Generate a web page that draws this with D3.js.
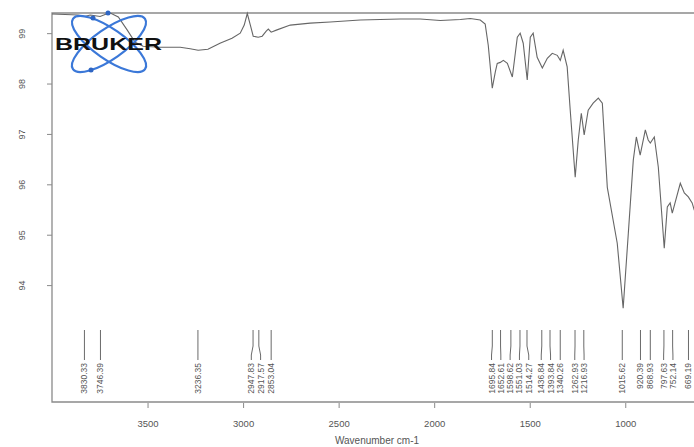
<!DOCTYPE html>
<html lang="en">
<head>
    <meta charset="UTF-8">
    <title>ir-spectrum</title>
    <script src="https://cdn.jsdelivr.net/npm/d3@7.8.5/dist/d3.min.js"></script>
</head>
<body style="margin:0;background:#fff">
<div id="container"></div>
<script>
    // spectrum trace (wavenumber cm-1, transmittance %)
    const wavenumbers = [4000, 3931, 3863, 3831, 3800, 3748, 3716, 3695, 3653, 3606, 3565, 3523, 3434, 3329, 3277,
        3235, 3184, 3121, 3058, 3015, 2994, 2978, 2962, 2947, 2921, 2900, 2879, 2868, 2853, 2826, 2753, 2649, 2544,
        2387, 2178, 2073, 1968, 1863, 1811, 1759, 1733, 1717, 1696, 1680, 1670, 1654, 1638, 1617, 1591, 1565, 1550,
        1534, 1513, 1497, 1482, 1461, 1434, 1408, 1382, 1356, 1340, 1325, 1304, 1288, 1262, 1246, 1230, 1215, 1194,
        1168, 1141, 1120, 1094, 1042, 1011, 984, 958, 942, 922, 895, 880, 869, 848, 827, 796, 780, 765, 754, 712,
        691, 670, 650, 639, 608];
    const transmittance = [99.38, 99.37, 99.36, 99.33, 99.36, 99.33, 99.38, 99.40, 99.32, 99.06, 98.82, 98.74, 98.72,
        98.72, 98.69, 98.66, 98.68, 98.80, 98.90, 99.00, 99.16, 99.39, 99.16, 98.94, 98.92, 98.94, 99.04, 99.08, 99.02,
        99.06, 99.16, 99.20, 99.22, 99.26, 99.28, 99.28, 99.25, 99.27, 99.29, 99.26, 99.18, 98.76, 97.91, 98.23, 98.40,
        98.42, 98.46, 98.40, 98.13, 98.92, 99.00, 98.80, 98.07, 98.92, 99.00, 98.52, 98.31, 98.50, 98.60, 98.56, 98.46,
        98.66, 98.33, 97.47, 96.14, 96.88, 97.41, 96.98, 97.47, 97.61, 97.71, 97.61, 95.94, 94.83, 93.54, 95.03, 96.48,
        96.94, 96.58, 97.08, 96.88, 96.82, 96.94, 96.34, 94.73, 95.55, 95.63, 95.43, 96.02, 95.83, 95.75, 95.63, 95.49,
        95.35];

    // picked peaks
    const peaks = [3830.33, 3746.39, 3236.35, 2947.83, 2917.57, 2853.04, 1695.84, 1652.61, 1598.62, 1551.03,
        1514.27, 1436.84, 1393.84, 1340.26, 1262.93, 1216.93, 1015.62, 920.39, 868.93, 797.63, 752.14, 669.19];

    const xTicks = [3500, 3000, 2500, 2000, 1500, 1000];
    const yTicks = [94, 95, 96, 97, 98, 99];

    const width = 694;
    const height = 447;
    const margin = {top: 13, left: 52, bottom: 402};
    const grey = "#8a8a8a";
    const textColor = "#555";

    const svg = d3.select("#container")
        .append("svg")
        .attr("width", width)
        .attr("height", height)
        .style("font-family", "'Liberation Sans', Arial, sans-serif");

    const xScale = d3.scaleLinear().domain([4000, 600]).range([margin.left, 701.7]);
    const yScale = d3.scaleLinear().domain([91.68, 99.4]).range([margin.bottom, margin.top]);

    // frame (left, top, bottom)
    svg.append("path")
        .attr("d", `M${width + 5},${margin.top}H${margin.left}V${margin.bottom}H${width + 5}`)
        .attr("fill", "none")
        .attr("stroke", grey)
        .attr("stroke-width", 1.3);

    // y axis
    const yAxis = svg.append("g")
        .attr("transform", `translate(${margin.left},0)`)
        .call(d3.axisLeft(yScale).tickValues(yTicks).tickSize(5).tickSizeOuter(0));
    yAxis.select(".domain").remove();
    yAxis.selectAll("line").attr("stroke", grey);
    yAxis.selectAll("text")
        .attr("x", 0)
        .attr("y", -27.5)
        .attr("dy", 0)
        .attr("transform", "rotate(-90)")
        .attr("text-anchor", "middle")
        .attr("fill", textColor)
        .style("font-size", "9px");

    // x axis
    const xAxis = svg.append("g")
        .attr("transform", `translate(0,${margin.bottom})`)
        .call(d3.axisBottom(xScale).tickValues(xTicks).tickFormat(d3.format("d"))
            .tickSize(6).tickPadding(12).tickSizeOuter(0));
    xAxis.select(".domain").remove();
    xAxis.selectAll("line").attr("stroke", grey).attr("y1", 1);
    xAxis.selectAll("text")
        .attr("fill", textColor)
        .style("font-size", "9.5px");

    svg.append("text")
        .attr("x", 377)
        .attr("y", 444)
        .attr("text-anchor", "middle")
        .attr("fill", textColor)
        .style("font-size", "10px")
        .text("Wavenumber cm-1");

    // spectrum
    const data = wavenumbers.map((w, i) => ({w: w, t: transmittance[i]}));
    const line = d3.line()
        .x(d => xScale(d.w))
        .y(d => yScale(d.t));
    svg.append("defs").append("clipPath").attr("id", "plotclip")
        .append("rect")
        .attr("x", margin.left).attr("y", margin.top - 2)
        .attr("width", width).attr("height", margin.bottom - margin.top);
    svg.append("path")
        .datum(data)
        .attr("d", line)
        .attr("clip-path", "url(#plotclip)")
        .attr("fill", "none")
        .attr("stroke", "#666")
        .attr("stroke-width", 1.1);

    // peak labels: spread labels so they don't overlap
    const gap = 9.3;
    const pos = peaks.map(p => xScale(p));
    let lab = pos.slice();
    for (let k = 0; k < 200; k++) {
        for (let i = 1; i < lab.length; i++) {
            const d = lab[i] - lab[i - 1];
            if (d < gap) {
                const shift = (gap - d) / 2;
                lab[i - 1] -= shift;
                lab[i] += shift;
            }
        }
    }
    const pg = svg.append("g");
    peaks.forEach((p, i) => {
        pg.append("path")
            .attr("d", `M${pos[i]},330V346L${lab[i]},355V360`)
            .attr("fill", "none")
            .attr("stroke", "#6a6a6a")
            .attr("stroke-width", 1);
        pg.append("text")
            .attr("transform", `translate(${lab[i] + 3},363) rotate(-90)`)
            .attr("text-anchor", "end")
            .attr("fill", textColor)
            .style("font-size", "8.5px")
            .text(p.toFixed(2));
    });

    // BRUKER logo
    const logo = svg.append("g");
    [-35, 35].forEach(a => {
        logo.append("ellipse")
            .attr("cx", 109).attr("cy", 44)
            .attr("rx", 44).attr("ry", 15)
            .attr("transform", `rotate(${a},109,44)`)
            .attr("fill", "none")
            .attr("stroke", "#3b78d8")
            .attr("stroke-width", 2.2);
    });
    [[91, 70], [93, 18], [108, 13]].forEach(c => {
        logo.append("circle").attr("cx", c[0]).attr("cy", c[1]).attr("r", 2.5).attr("fill", "#2f66c4");
    });
    logo.append("text")
        .attr("x", 55)
        .attr("y", 50)
        .attr("textLength", 107)
        .attr("lengthAdjust", "spacingAndGlyphs")
        .attr("fill", "#111")
        .style("font-size", "17px")
        .style("font-weight", "bold")
        .text("BRUKER");
</script>
</body>
</html>
